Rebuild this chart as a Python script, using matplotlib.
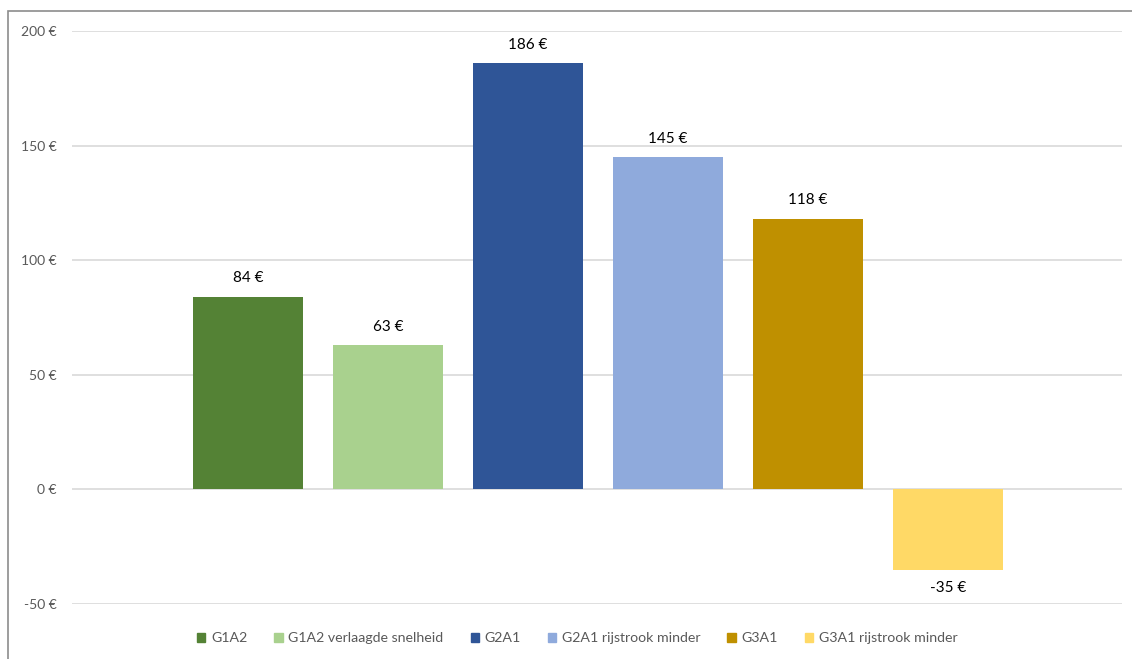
import matplotlib.pyplot as plt
from matplotlib.patches import Patch, Rectangle

labels = ["G1A2", "G1A2 verlaagde snelheid", "G2A1", "G2A1 rijstrook minder",
          "G3A1", "G3A1 rijstrook minder"]
values = [84, 63, 186, 145, 118, -35]
colors = ["#548235", "#A9D18E", "#2F5597", "#8FAADC", "#BF9000", "#FFD966"]
yticks = [-50, 0, 50, 100, 150, 200]

plt.rcParams['font.family'] = ['Lato', 'DejaVu Sans']

fig = plt.figure(figsize=(11.32, 6.59), dpi=100)
W, H = 1132, 659
ax = fig.add_axes([72 / W, 1 - 604 / H, (1122 - 72) / W, (604 - 31) / H])

x = list(range(len(values)))
ax.bar(x, values, width=0.786, color=colors, zorder=3)
for xi, v in zip(x, values):
    if v >= 0:
        ax.text(xi, v + 5, f"{v} €", ha='center', va='bottom', fontsize=11, color='black')
    else:
        ax.text(xi, v - 5, f"{v} €", ha='center', va='top', fontsize=11, color='black')

ax.set_xlim(-1.257, 6.243)
ax.set_ylim(-50, 200)
ax.set_yticks(yticks)
ax.set_yticklabels([f"{t} €" for t in yticks], fontsize=10, color='#595959')
ax.tick_params(axis='y', length=0, pad=11)
ax.set_xticks([])
ax.grid(axis='y', color='#d9d9d9', linewidth=1.2, zorder=0)
for s in ax.spines.values():
    s.set_visible(False)

handles = [Patch(color=c, label=l) for c, l in zip(colors, labels)]
fig.legend(handles=handles, loc='center', bbox_to_anchor=(0.51, 1 - 638 / H), ncol=6,
           frameon=False, fontsize=10.2, labelcolor='#595959', handlelength=0.6,
           handleheight=0.6, handletextpad=0.4, columnspacing=1.9)

fig.patches.append(Rectangle((8 / W, -0.05), 1.2, 1 - 11 / H + 0.05, transform=fig.transFigure,
                             fill=False, edgecolor='#8c8c8c', linewidth=1.2))

fig.savefig("out.png", dpi=100)
